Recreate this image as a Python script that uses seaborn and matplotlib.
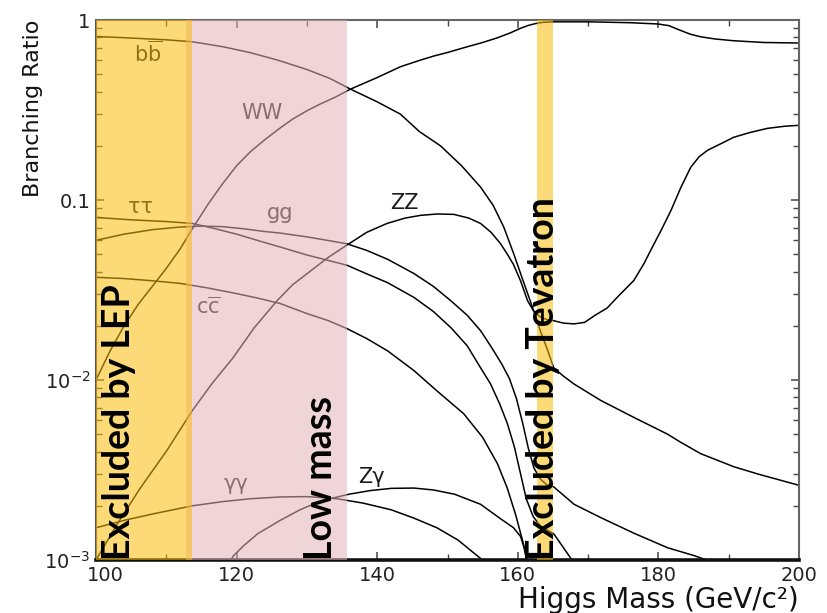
import numpy as np
import pandas as pd
import matplotlib
matplotlib.use("Agg")
import matplotlib.pyplot as plt
import matplotlib.transforms as mtransforms
import seaborn as sns

# ---------------- data ----------------
bb_mass = [100, 105, 110, 113.7, 118, 122, 126, 130, 133.3, 136.2, 140, 143.3, 146, 149, 152,
           154.7, 156.5, 158, 159.4, 160.5, 161.4, 162.3, 163.2, 164.2, 165.1, 166.5, 168, 171.8,
           176.5, 181.3, 183, 186, 190.7, 194.2, 200]
bb_br = [0.81, 0.794, 0.776, 0.757, 0.711, 0.658, 0.596, 0.531, 0.473, 0.413, 0.351, 0.30, 0.24, 0.20, 0.155,
         0.118, 0.0933, 0.0708, 0.0505, 0.038, 0.0302, 0.024, 0.0188, 0.0148, 0.0117, 0.0105, 0.0095, 0.0077,
         0.0062, 0.0050, 0.00455, 0.0039, 0.0033, 0.0030, 0.0026]

ww_mass = [100, 102, 104, 106, 108, 110, 112, 113.7, 116, 118, 120, 122, 124, 126, 128, 130, 132, 134,
           136.2, 140, 143.3, 146, 148, 150, 152.8, 155, 157, 159, 160.4, 161.5, 162.5, 163.5, 165, 170,
           176, 180, 181.5, 183, 184.5, 186, 188, 190.7, 195, 200]
ww_br = [0.010, 0.0145, 0.020, 0.0263, 0.0331, 0.0417, 0.0537, 0.0692, 0.0955, 0.123, 0.155, 0.186, 0.216,
         0.248, 0.282, 0.313, 0.343, 0.372, 0.413, 0.479, 0.55, 0.596, 0.63, 0.66, 0.71, 0.75, 0.794, 0.85,
         0.90, 0.933, 0.955, 0.97, 0.977, 0.977, 0.966, 0.95, 0.93, 0.88, 0.835, 0.807, 0.785, 0.767, 0.75, 0.745]

zz_mass = [100, 103, 106.3, 110.1, 113.7, 116.5, 119.5, 122.5, 125.8, 128, 130, 133, 135.7, 138.5, 141.4,
           144, 146.2, 148.5, 150.9, 153, 154.7, 156.2, 157.5, 158.5, 159.4, 160.4, 161.4, 162.3, 163.2,
           164.2, 165, 166.5, 168, 169.5, 171, 172.7, 174.4, 176.5, 178, 178.9, 180.5, 181.8, 183.2, 184.6,
           185.8, 187, 189, 190.7, 193, 195.5, 198, 200]
zz_br = [0.001, 0.00158, 0.00251, 0.00407, 0.00676, 0.00955, 0.0133, 0.0195, 0.0277, 0.0339, 0.0389, 0.0479,
         0.0562, 0.0661, 0.0741, 0.0794, 0.0822, 0.0836, 0.0832, 0.0794, 0.0741, 0.0661, 0.0575, 0.0501,
         0.0437, 0.0355, 0.0275, 0.024, 0.0224, 0.0216, 0.0214, 0.0207, 0.0205, 0.0209, 0.0229, 0.0251,
         0.0295, 0.0357, 0.0447, 0.0525, 0.0692, 0.0877, 0.1175, 0.152, 0.174, 0.189, 0.2065, 0.223, 0.237,
         0.25, 0.257, 0.26]

gg_mass = [100, 104, 108, 112, 115, 118, 121, 124, 126.2, 130, 133, 135.7, 138.5, 141.5, 145.2, 148,
           150.5, 152.8, 154.7, 156.3, 157.7, 158.8, 159.8, 160.7, 161.5, 162.3, 163.2, 164.2, 165.1,
           168, 171.8, 176.5, 181.3, 185, 188.5]
gg_br = [0.0597, 0.0646, 0.0684, 0.0708, 0.0716, 0.0711, 0.0692, 0.0668, 0.0655, 0.0624, 0.0596, 0.0571,
         0.0525, 0.0468, 0.0391, 0.0331, 0.0275, 0.0229, 0.0188, 0.0151, 0.0123, 0.0102, 0.0079, 0.00575,
         0.00417, 0.00324, 0.00282, 0.00260, 0.00255, 0.00204, 0.00172, 0.00141, 0.00117, 0.00106, 0.00095]

tautau_mass = [100, 105, 110, 113.7, 117, 120, 123, 126.2, 130, 133, 135.7, 138.5, 141.5, 145.2, 148,
               150.5, 152.8, 154.7, 156.1, 157.4, 158.5, 159.5, 160.4, 161.2, 162.2, 163.2, 164.4, 165.1,
               166.5, 167.7, 169]
tautau_br = [0.080, 0.0776, 0.0759, 0.0741, 0.0692, 0.0646, 0.0596, 0.0548, 0.0495, 0.0462, 0.0434, 0.0389,
             0.0347, 0.0288, 0.024, 0.0195, 0.0155, 0.0117, 0.00955, 0.0074, 0.00575, 0.00427, 0.0030,
             0.00219, 0.00174, 0.00155, 0.00145, 0.0014, 0.00117, 0.0010, 0.00087]

cc_mass = [100, 104, 108, 112, 116, 120, 123, 126.2, 130, 133, 135.7, 138.5, 141.5, 145.2, 148.5, 152.3,
           155, 157.1, 158.5, 159.7, 160.8, 161.5]
cc_br = [0.0372, 0.0366, 0.0356, 0.0344, 0.0324, 0.0302, 0.0285, 0.0266, 0.0234, 0.0214, 0.0193, 0.017,
         0.0145, 0.0113, 0.0087, 0.0065, 0.0048, 0.00343, 0.00251, 0.00178, 0.00123, 0.00093]

gamgam_mass = [100, 104, 108, 113.7, 118, 122, 126.2, 130, 134.3, 138, 142, 145.2, 148.5, 151.5, 154.7, 156]
gamgam_br = [0.00151, 0.00166, 0.0018, 0.0020, 0.00211, 0.00219, 0.00224, 0.00225, 0.00219, 0.00207, 0.0019,
             0.00171, 0.00151, 0.00129, 0.00102, 0.00091]

zgam_mass = [118.9, 119.5, 121, 123, 126.2, 129, 131.5, 133.3, 136, 139, 142, 145.2, 148, 151, 154.7, 157.5,
             159.4, 160.4, 160.9, 161.4]
zgam_br = [0.00095, 0.00105, 0.0012, 0.0014, 0.00166, 0.0019, 0.00209, 0.00219, 0.00232, 0.00243, 0.0025,
           0.00251, 0.00245, 0.00232, 0.00204, 0.0017, 0.00151, 0.00135, 0.00117, 0.00093]

channel_names = ["bb", "WW", "ZZ", "gg", "tautau", "cc", "gamgam", "Zgam"]
channel_mass = [bb_mass, ww_mass, zz_mass, gg_mass, tautau_mass, cc_mass, gamgam_mass, zgam_mass]
channel_br = [bb_br, ww_br, zz_br, gg_br, tautau_br, cc_br, gamgam_br, zgam_br]

# curve labels and their positions
label_texts = [r"$\mathregular{b\overline{b}}$", "WW", "ττ", "gg", "ZZ",
               r"$\mathregular{c\overline{c}}$", "γγ", "Zγ"]
label_x = [107.5, 123.6, 106.4, 126.2, 143.9, 116.0, 119.9, 139.2]
label_y = [0.655, 0.306, 0.092, 0.085, 0.096, 0.0255, 0.00265, 0.0029]

# shaded regions
lep_range = (100, 113.7)
lowmass_range = (112.8, 135.7)
tev_range = (162.7, 165.0)
region_texts = ["Excluded by LEP", "Low mass", "Excluded by Tevatron"]
region_text_x = [104.85, 133.6, 165.1]

ytick_vals = [1e-3, 1e-2, 0.1, 1]
ytick_labels = [r"$\mathregular{10^{-3}}$", r"$\mathregular{10^{-2}}$", "0.1", "1"]
xtick_vals = [100, 120, 140, 160, 180, 200]

# ---------------- build long table ----------------
rows = []
for name, xs, ys in zip(channel_names, channel_mass, channel_br):
    for xv, yv in zip(xs, ys):
        rows.append((name, xv, yv))
df = pd.DataFrame(rows, columns=["channel", "mass", "br"])

# ---------------- plotting ----------------
sns.set_style("ticks")
plt.rcParams["font.family"] = ["DejaVu Sans"]
plt.rcParams["mathtext.fontset"] = "dejavusans"

fig = plt.figure(figsize=(8.27, 6.13), dpi=100)
ax = fig.add_axes([96 / 827, 53 / 613, 703 / 827, 540 / 613])

sns.lineplot(data=df, x="mass", y="br", hue="channel", units="channel",
             estimator=None, palette={n: "black" for n in channel_names},
             legend=False, linewidth=1.1, ax=ax, zorder=2)

ax.set_yscale("log")
ax.set_xlim(100, 200)
ax.set_ylim(1e-3, 1)

# curve labels (under the translucent bands)
for t, xv, yv in zip(label_texts, label_x, label_y):
    ax.text(xv, yv, t, ha="center", va="center", fontsize=15, color="#1a1a1a", zorder=2.2)

# translucent bands drawn over lines
ax.axvspan(*lowmass_range, color=(228 / 255, 180 / 255, 184 / 255), alpha=0.55, lw=0, zorder=3)
ax.axvspan(*lep_range, color=(251 / 255, 188 / 255, 10 / 255), alpha=0.55, lw=0, zorder=3.1)
ax.axvspan(*tev_range, color=(251 / 255, 188 / 255, 10 / 255), alpha=0.55, lw=0, zorder=3.1)

# vertical bold texts
for t, xv in zip(region_texts, region_text_x):
    ax.text(xv, 0.0, t, rotation=90, rotation_mode="anchor", ha="left", va="baseline",
            transform=ax.get_xaxis_transform(), fontsize=27, fontweight="bold",
            family=["Lato", "DejaVu Sans"], color="black", zorder=6, clip_on=False)

# ticks
ax.set_yticks(ytick_vals)
ax.set_yticklabels(ytick_labels)
ax.set_xticks(xtick_vals)
ax.set_xticklabels([str(v) for v in xtick_vals])
ax.set_xticks(np.arange(110, 200, 20), minor=True)
ax.tick_params(axis="both", which="both", direction="in", top=True, right=True,
               colors="#444444", labelcolor="#222222")
ax.tick_params(axis="both", which="major", length=6, width=1.1, labelsize=14, pad=4)
ax.tick_params(axis="both", which="minor", length=4, width=1.0)
ax.tick_params(axis="y", which="minor", labelleft=False)

# the first x tick label sits a little to the right of its tick
shift = mtransforms.ScaledTranslation(9 / 100, 0, fig.dpi_scale_trans)
first_lab = ax.get_xticklabels()[0]
first_lab.set_transform(first_lab.get_transform() + shift)

# spines
for s in ["top", "right"]:
    ax.spines[s].set_color("#666666")
    ax.spines[s].set_linewidth(1.5)
ax.spines["left"].set_color("#555555")
ax.spines["left"].set_linewidth(1.5)
ax.spines["bottom"].set_color("#111111")
ax.spines["bottom"].set_linewidth(2.6)

ax.set_xlabel("Higgs Mass (GeV/c²)", fontsize=20, loc="right", labelpad=1, color="#111111")
ax.set_ylabel("Branching Ratio", fontsize=16, loc="top", color="#111111")
ax.yaxis.set_label_coords(-0.075, 1.0)

fig.savefig("out.png", dpi=100)
